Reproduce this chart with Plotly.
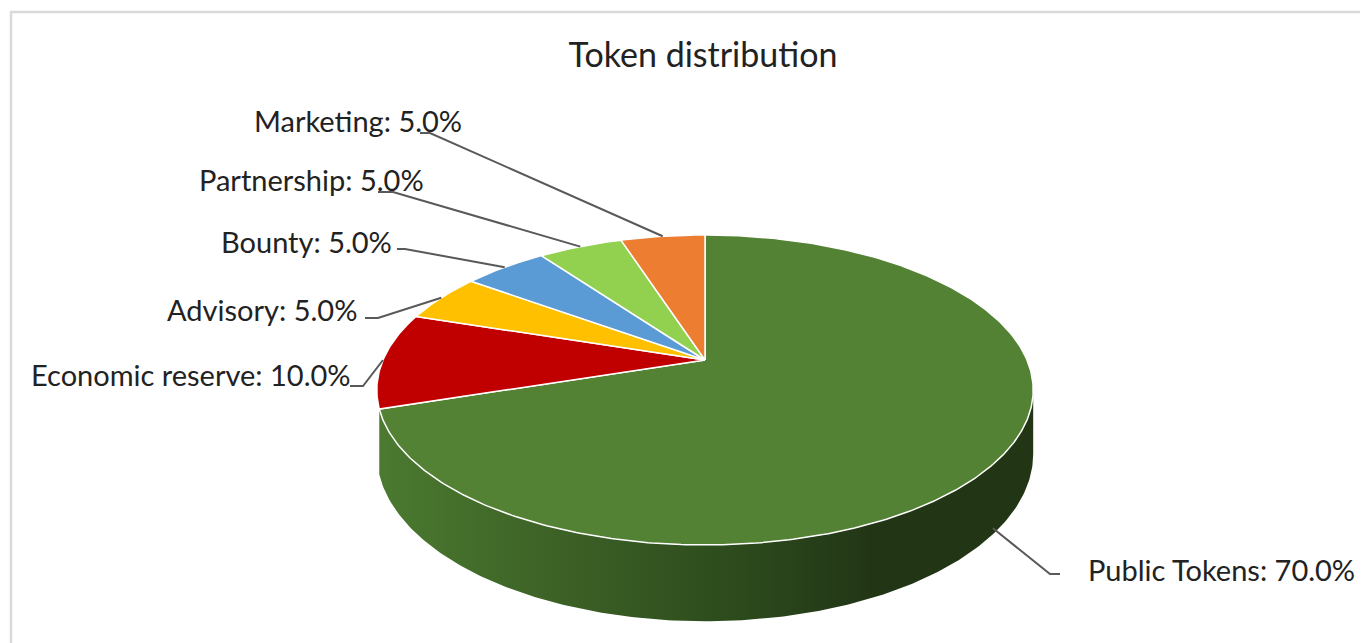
import numpy as np
import plotly.graph_objects as go

# data
labels = ["Public Tokens", "Economic reserve", "Advisory", "Bounty", "Partnership", "Marketing"]
shares = [70.0, 10.0, 5.0, 5.0, 5.0, 5.0]
top_colors = ["#548235", "#C00000", "#FFC000", "#5B9BD5", "#92D050", "#ED7D31"]

# where the labels sit (page pixels), and the elbow of each leader line
label_pos = [(1086, 569), (353, 374), (359, 309), (394, 241), (426, 179), (464, 120)]
leader_end = [(1060, 574), (350, 386), (365, 318), (397, 249), (378, 192), (420, 133)]
leader_elbow = [(1050, 574), (363, 386), (378, 318), (405, 249), (393, 192), (430, 133)]

# 3d pie geometry (perspective ellipse), page pixels
CX, CY = 705, 360
A, B, P = 322, 149.2, 0.1935
DEPTH = 61.5
FONT = "Lato"
OFF = 8  # body margin of the html page


def proj(theta, drop=0.0):
    t = np.radians(theta)
    x3 = np.sin(t)
    z = -np.cos(t)
    w = 1 - P * z
    return CX + A * x3 / w, CY + (B * z + drop) / w


total = sum(shares)
starts = np.cumsum([0] + shares[:-1]) / total * 360
ends = np.cumsum(shares) / total * 360

vis_lo = np.degrees(np.arccos(-P))

fig = go.Figure()

# front wall of the biggest slice
a, b = max(starts[0], vis_lo), ends[0]
th = np.linspace(a, b, 200)
xt, yt = proj(th)
xb, yb = proj(th[::-1], DEPTH)
fig.add_trace(go.Scatter(
    x=np.concatenate([xt, xb, xt[:1]]), y=np.concatenate([yt, yb, yt[:1]]),
    mode="lines", fill="toself", line=dict(width=0, color="#2c4a1c"),
    fillgradient=dict(type="horizontal",
                      colorscale=[[0, "#4b7a30"], [0.3, "#3b5f25"],
                                  [0.55, "#2c4a1c"], [0.75, "#223616"],
                                  [1, "#223616"]]),
    hoverinfo="skip", showlegend=False))

# top faces
for i, lab in enumerate(labels):
    th = np.linspace(starts[i], ends[i], max(int(shares[i] * 6), 20))
    xa, ya = proj(th)
    xs = np.concatenate([[CX], xa, [CX]])
    ys = np.concatenate([[CY], ya, [CY]])
    fig.add_trace(go.Scatter(x=xs, y=ys, mode="lines", fill="toself",
                             fillcolor=top_colors[i],
                             line=dict(color="white", width=1.5),
                             name=lab, hoverinfo="name", showlegend=False))

# leader lines and labels
for i, lab in enumerate(labels):
    mid = (starts[i] + ends[i]) / 2
    if 90 < mid < 270:
        ax, ay = proj(mid, DEPTH)
        ax -= 6
    else:
        ax, ay = proj(mid)
    fig.add_trace(go.Scatter(x=[ax, leader_elbow[i][0], leader_end[i][0]],
                             y=[ay, leader_elbow[i][1], leader_end[i][1]],
                             mode="lines", line=dict(color="#595959", width=2),
                             hoverinfo="skip", showlegend=False))
    lx, ly = label_pos[i]
    fig.add_annotation(x=lx, y=ly, text=f"{lab}: {shares[i] / total * 100:.1f}%",
                       showarrow=False, xanchor="left" if i == 0 else "right",
                       yanchor="middle", font=dict(family=FONT, size=29, color="#222222"))

fig.add_shape(type="rect", x0=11, y0=12, x1=1400, y1=680,
              line=dict(color="#d9d9d9", width=2.5), layer="below")

fig.update_layout(
    width=1368, height=643,
    margin=dict(l=0, r=0, t=0, b=0),
    paper_bgcolor="white", plot_bgcolor="white",
    title=dict(text="Token distribution", x=(703 - OFF) / 1368, xanchor="center",
               y=1 - (55 - OFF) / 643, yanchor="middle",
               font=dict(family=FONT, size=34, color="#222222")),
    xaxis=dict(range=[OFF, 1368 + OFF], visible=False, fixedrange=True),
    yaxis=dict(range=[643 + OFF, OFF], visible=False, fixedrange=True),
)

fig.write_html("out.html")
